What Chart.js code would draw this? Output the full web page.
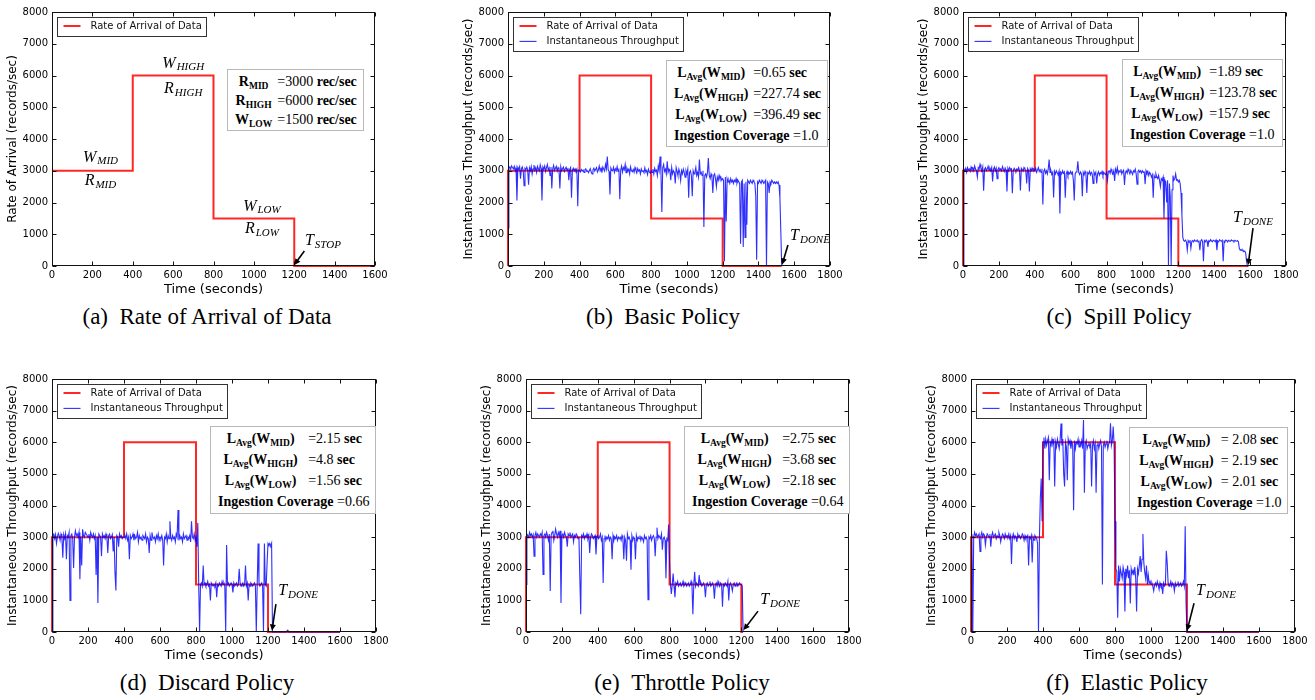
<!DOCTYPE html>
<html>
<head>
<meta charset="utf-8">
<script src="https://cdn.jsdelivr.net/npm/chart.js@4.4.0/dist/chart.umd.min.js"></script>
<style>
  body { margin: 0; width: 1315px; height: 700px; position: relative; background: #fff; overflow: hidden; }
  canvas { position: absolute; }
  .cap { position: absolute; font-family: "Liberation Serif", serif; font-size: 23px; white-space: nowrap; transform: translate(-50%, -50%); color: #000; }
  .stats { position: absolute; box-sizing: border-box; border: 1px solid #b8b8b8; background: #fff;
           display: flex; align-items: center; padding-left: 7px;
           font-family: "Liberation Serif", serif; font-size: 14px; color: #000; }
  .stats table { border-collapse: collapse; }
  .stats td { padding: 0; white-space: nowrap; }
  .stats td.k { text-align: center; padding-right: 5px; }
  .stats sub { font-size: 68%; vertical-align: -0.3em; line-height: 0; }
</style>
</head>
<body>
<script>
// ---- data ----
const STEP = 5; // seconds between throughput samples
const arrivalTimes = [0, 400, 800, 1200];
const arrivalRates = [3000, 6000, 1500, 0];

const basicThroughput = [
  1200, 3080, 3120, 3050, 3150, 3100, 3060, 3140, 3000, 3090, 2060, 3110, 3050, 3130, 2750, 3070, 3120, 3000, 2530, 3080,
  3040, 3110, 3020, 2560, 3090, 3000, 3130, 2900, 3060, 3180, 3020, 3100, 2950, 3140, 3060, 3000, 3190, 3080, 2060, 3120,
  3050, 3150, 2980, 3100, 3200, 3030, 3090, 2850, 3120, 2440, 3060, 3170, 3010, 3080, 3140, 2990, 3100, 3050, 2440, 3130,
  3000, 3070, 3120, 2980, 3060, 3110, 3010, 3090, 2700, 3040, 3100, 2150, 3020, 3080, 3000, 3060, 2990, 3050, 1880, 3020,
  3010, 2960, 3040, 2990, 3020, 2950, 3030, 3060, 2980, 3000, 2940, 3010, 3070, 2960, 2900, 3030, 3080, 2990, 3050, 3100,
  2960, 3020, 3150, 3000, 3080, 2940, 3120, 3050, 2990, 3200, 3060, 3450, 3030, 2980, 2250, 3090, 3020, 3000, 3110, 2950,
  3060, 3000, 3130, 2980, 3070, 2100, 3020, 3150, 2960, 3100, 3030, 3200, 2940, 3080, 2990, 3050, 2900, 3120, 3000, 2970,
  3040, 2950, 3100, 3010, 2930, 3070, 2990, 3030, 2900, 3060, 2980, 3000, 2940, 3090, 2960, 3010, 2880, 3050, 2970, 2920,
  3000, 2950, 3050, 2900, 3080, 2980, 3020, 2850, 3150, 3000, 3450, 2950, 1700, 3100, 3200, 2980, 3050, 2900, 3300, 2950,
  3050, 2980, 2700, 3100, 2900, 3000, 2950, 2600, 3100, 2980, 2850, 3050, 2950, 2700, 3000, 2900, 3050, 2950, 2800, 3000,
  2900, 3050, 2150, 2950, 3000, 2850, 2200, 3000, 2900, 2950, 3100, 2850, 2950, 2800, 3350, 2900, 2950, 2850, 3000, 1230,
  2850, 2900, 2800, 2950, 3400, 2850, 2750, 2900, 2800, 2300, 2850, 2900, 2750, 2500, 2800, 2700, 2850, 2750, 2800, 2700,
  2750, 2700, 150, 2800, 1400, 2750, 2650, 2700, 2600, 2750, 2650, 2700, 2600, 2700, 2650, 2750, 2600, 2700, 2650, 2600,
  700, 2650, 2700, 600, 2600, 900, 2650, 1300, 2700, 2650, 2600, 2700, 2650, 2600, 2700, 2650, 2600, 2200, 200, 2650,
  2600, 2700, 2650, 2600, 2700, 2650, 2600, 2650, 2700, 0, 2650, 2600, 2300, 2650, 2600, 2700, 2650, 2600, 2650, 2600,
  2650, 2600, 2650, 2550, 2150, 1100, 0
];

const spillThroughput = [
  0, 3050, 3000, 3080, 2950, 3100, 3020, 3060, 2980, 3120, 3040, 3090, 3000, 3150, 3050, 3000, 2800, 3100, 3060, 3200,
  3080, 3000, 3120, 2370, 3050, 3100, 3000, 3060, 3140, 3020, 3080, 3000, 3100, 2660, 3050, 3120, 3000, 3080, 2750, 3040,
  3100, 3020, 3060, 3000, 3130, 3050, 2980, 3090, 3020, 2350, 3080, 3000, 3100, 3040, 3060, 2290, 3000, 3080, 3030, 2980,
  3060, 3020, 3100, 3000, 2380, 3080, 3040, 2990, 3100, 3050, 3000, 2600, 3070, 3010, 2350, 3060, 3000, 3090, 3020, 3050,
  3000, 3080, 2950, 3020, 3100, 2980, 3030, 2950, 3060, 1940, 2990, 3050, 2920, 3000, 2900, 3060, 3350, 2950, 3000, 2880,
  2950, 2160, 2980, 2900, 3000, 2940, 2870, 2980, 1650, 2950, 2900, 3000, 2920, 2960, 2150, 2900, 2980, 2850, 2950, 2900,
  2980, 2900, 2950, 2700, 2060, 2900, 2960, 3000, 3300, 2950, 2880, 2960, 2900, 2200, 2950, 2870, 2980, 2900, 2300, 2940,
  2900, 2980, 2870, 2950, 2900, 2600, 2960, 2880, 2950, 2600, 2900, 2970, 2860, 2940, 2900, 2980, 2850, 2950, 2900, 2880,
  2950, 2700, 2980, 3000, 2920, 3050, 2960, 2900, 3000, 2680, 3050, 2950, 3100, 2900, 3000, 2960, 3050, 2900, 2980, 3020,
  2550, 2950, 3000, 2920, 3050, 2980, 2900, 3010, 2950, 2880, 3000, 2960, 3050, 2900, 2580, 2980, 3020, 2950, 3000, 2930,
  3000, 2950, 2960, 2580, 3000, 2920, 2980, 2850, 2950, 2900, 2800, 2870, 2150, 2850, 2780, 2900, 2800, 2750, 2850, 2700,
  2500, 2750, 2700, 2800, 1500, 2700, 2650, 2000, 2700, 0, 2600, 2200, 0, 2400, 2850, 2700, 2750, 2900, 2700, 2720,
  2650, 2700, 2600, 2300, 1600, 900, 800, 780, 820, 760, 500, 800, 750, 820, 560, 780, 800, 760, 820, 790,
  780, 820, 760, 800, 500, 790, 830, 770, 150, 800, 760, 820, 780, 600, 800, 770, 830, 790, 760, 810,
  800, 770, 820, 500, 790, 760, 830, 800, 780, 810, 150, 790, 770, 820, 800, 760, 810, 790, 780, 820,
  790, 800, 770, 810, 790, 780, 800, 760, 550, 500, 520, 480, 500, 450, 470, 420, 150, 0, 0
];

const discardThroughput = [
  0, 3050, 3100, 2950, 3080, 2800, 3000, 3120, 3050, 2900, 3100, 3000, 2350, 3080, 2950, 3100, 2300, 3050, 3000, 3150,
  1000, 3050, 3100, 2950, 2025, 3000, 3200, 3050, 3100, 3000, 3150, 1670, 3000, 2100, 3250, 3050, 3000, 3150, 3100, 3050,
  3000, 3100, 2900, 3150, 3050, 3000, 3100, 2950, 3050, 1800, 3000, 920, 3100, 3050, 3000, 2400, 3100, 3000, 3050, 2950,
  3100, 3000, 2500, 3050, 3100, 2950, 3000, 3080, 2550, 3000, 1870, 1310, 3050, 3000, 2700, 3100, 3000, 3050, 2950, 3000,
  3000, 3050, 2950, 3100, 2900, 3000, 2300, 3050, 2950, 3000, 3100, 2900, 3050, 2950, 3000, 3150, 2850, 3050, 2950, 3000,
  2900, 3050, 3000, 2950, 3100, 2850, 3000, 2950, 2500, 3050, 2900, 3150, 3000, 2950, 3000, 2850, 3050, 2950, 3100, 2900,
  3000, 2950, 3050, 2900, 2100, 3000, 2950, 3100, 2850, 3050, 2950, 3500, 3000, 2900, 3050, 2950, 3000, 2850, 3100, 3000,
  3860, 2900, 3050, 2950, 3000, 2850, 3100, 2950, 3000, 3050, 2900, 3000, 2950, 3050, 2850, 3500, 3000, 2950, 3100, 2900,
  3000, 2700, 3450, 1500, 0, 1500, 1550, 1450, 2100, 1500, 1550, 1450, 1500, 1600, 1450, 1500, 1000, 1550, 1500, 1450,
  1500, 1450, 1550, 1100, 1500, 1450, 1550, 1500, 1450, 1600, 1500, 1550, 1450, 0, 2750, 1500, 1550, 1450, 1500, 1550,
  1500, 1250, 1550, 1450, 1500, 1550, 1450, 1500, 2000, 1550, 1450, 1500, 1550, 1450, 1500, 2100, 1450, 1550, 1000, 1500,
  1450, 1550, 1500, 1450, 1500, 1550, 1450, 0, 1500, 2800, 1550, 1450, 1500, 1550, 1450, 0, 2800, 1500, 1450, 2200,
  2800, 2750, 2800, 2700, 2800, 0, 0, 0, 0, 0, 0, 0, 0, 0, 0, 0, 0, 0, 0, 0,
  0, 0, 60, 0, 0, 0, 0, 0, 0, 0, 0, 0, 0, 0, 0, 0, 0, 0, 0, 0,
  0, 0, 0, 0, 0, 0, 0, 0, 0, 0, 0, 0, 0, 0, 0, 0, 0, 0, 0, 0,
  0, 0, 0, 0, 0, 0, 0, 0, 0, 0, 0, 0, 0, 0, 0, 0, 0, 0, 0, 0,
  0
];

const throttleThroughput = [
  1500, 3100, 3050, 3000, 3150, 3050, 3100, 3000, 3080, 2400, 3050, 3150, 3000, 3100, 3050, 3000, 3100, 3050, 3150, 1820,
  3050, 3100, 3000, 3150, 3050, 2900, 3100, 1300, 3050, 3150, 3200, 2900, 3050, 3250, 3100, 3000, 3150, 3050, 3200, 920,
  3050, 3100, 3000, 3150, 3050, 3000, 2700, 3100, 3050, 3150, 3000, 3050, 3100, 2850, 3050, 3000, 3100, 3050, 2950, 3000,
  1700, 560, 3050, 3000, 3100, 2950, 3050, 3000, 3100, 2950, 3050, 2500, 3000, 3100, 3050, 2950, 3000, 3050, 2450, 3000,
  3050, 2950, 3000, 3100, 2900, 3000, 1550, 2950, 3050, 2900, 3000, 2950, 3050, 2900, 3000, 2950, 2300, 3050, 2900, 3000,
  2950, 3050, 2900, 3000, 2950, 3000, 2900, 3050, 2950, 2300, 3000, 2900, 2250, 3100, 2950, 3000, 2900, 1970, 3050, 2900,
  3000, 2950, 2300, 3050, 2900, 3000, 2950, 3050, 2900, 3000, 2950, 2850, 3050, 2950, 3000, 2900, 1020, 3000, 2950, 3050,
  2900, 3000, 3050, 2950, 2400, 3000, 3300, 2950, 3050, 3000, 2950, 3100, 2600, 2950, 3000, 2900, 1700, 2950, 2900, 3400,
  2200, 1500, 1200, 1500, 1850, 1450, 1100, 1550, 1500, 1600, 1450, 1500, 1550, 1450, 1500, 1600, 1450, 1500, 1550, 1450,
  1500, 1550, 1450, 1500, 1600, 1450, 560, 1500, 1900, 1450, 1550, 1500, 1450, 1800, 1500, 1550, 1450, 1500, 1550, 1450,
  1100, 1500, 1550, 1450, 1500, 1600, 1450, 1500, 1550, 1450, 1050, 1500, 1550, 1450, 1600, 1500, 1450, 1550, 1500, 800,
  1500, 1450, 1550, 1500, 1450, 1600, 1000, 1500, 1550, 1450, 1300, 1500, 1550, 1450, 1500, 1550, 1450, 1500, 1550, 1500,
  1500, 1450, 0
];

const elasticThroughput = [
  0, 3100, 0, 3000, 3150, 3050, 3100, 3000, 3050, 3100, 2550, 3050, 3150, 3000, 3100, 3050, 2750, 3000, 3100, 3050,
  3000, 3100, 2700, 3050, 3150, 3000, 3050, 3100, 2950, 3050, 3000, 3150, 3050, 2850, 3000, 3100, 3050, 2950, 3100, 3000,
  3050, 3000, 3100, 2950, 3050, 2150, 3000, 3100, 2950, 3050, 3000, 2850, 3100, 3000, 3050, 2950, 3000, 3100, 3050, 2900,
  3050, 2950, 3000, 3050, 2100, 3000, 2950, 3050, 2200, 3000, 2900, 3050, 3000, 2950, 2800, 0, 2950, 4200, 4850, 3500,
  6000, 6150, 5800, 6100, 5900, 6050, 6150, 4800, 6000, 5900, 6100, 5950, 6050, 4600, 6000, 5850, 6100, 5950, 5800, 6050,
  6590, 5900, 6100, 5000, 4600, 6000, 5850, 4800, 6100, 5950, 6050, 5800, 6000, 5900, 3850, 6050, 5800, 6000, 5950, 6100,
  5850, 6000, 5900, 6050, 5800, 6700, 4400, 5950, 6050, 5800, 5900, 6000, 5850, 5950, 4600, 5900, 6050, 5800, 5950, 4400,
  5900, 6000, 5800, 5950, 6050, 5850, 1500, 5900, 6000, 5850, 5950, 6050, 5800, 5950, 6000, 6600, 5900, 6050, 6500, 5950,
  3500, 2000, 1900, 450, 2100, 1600, 2000, 1850, 1700, 2050, 1900, 650, 2000, 1800, 2100, 1700, 1950, 900, 2000, 1850,
  1950, 1800, 2050, 1700, 650, 2000, 1850, 2100, 2400, 1900, 2300, 3100, 2200, 1900, 1700, 2100, 1500, 1800, 1550, 1600,
  1500, 1550, 1450, 1300, 1500, 1550, 1450, 1600, 1500, 1350, 1550, 1450, 1500, 1200, 1550, 1450, 1500, 2570, 2200, 1550,
  1450, 1500, 1600, 1450, 1550, 1500, 1300, 1550, 1450, 1500, 1600, 1450, 1500, 1550, 1450, 1500, 1600, 1450, 3340, 850,
  0, 0, 0, 0, 0, 0, 0, 0, 0, 0, 0, 0, 0, 0, 0, 0, 0, 0, 0, 0,
  0, 0, 0, 0, 0, 0, 0, 0, 0, 0, 0, 0, 0, 0, 0, 0, 0, 0, 0, 0,
  0, 0, 0, 0, 0, 0, 0, 0, 0, 0, 0, 0, 0, 0, 0, 0, 0, 0, 0, 0,
  0, 0, 0, 0, 0, 0, 0, 0, 0, 0, 0, 0, 0, 0, 0, 0, 0, 0, 0, 0,
  0
];

// latency table values: W_MID, W_HIGH, W_LOW, coverage
const basicLatency = ["0.65", "227.74", "396.49"];
const spillLatency = ["1.89", "123.78", "157.9"];
const discardLatency = ["2.15", "4.8", "1.56"];
const throttleLatency = ["2.75", "3.68", "2.18"];
const elasticLatency = ["2.08", "2.19", "2.01"];
const coverage = { basic: "1.0", spill: "1.0", discard: "0.66", throttle: "0.64", elastic: "1.0" };
const arrivalTable = ["3000", "6000", "1500"];

// ---- drawing helpers ----
const RED = "rgba(255,0,0,0.85)";
const BLUE = "rgba(0,0,255,0.82)";
const TICK_FONT = { family: "DejaVu Sans", size: 10 };

function arrivalPoints(end, fromZero) {
  const pts = arrivalTimes.map((t, i) => ({ x: t, y: arrivalRates[i] }));
  pts.push({ x: end, y: 0 });
  if (fromZero) pts.unshift({ x: 0, y: 0 });
  return pts;
}

const decor = {
  id: "decor",
  afterDatasetsDraw(chart, args, opts) {
    const { ctx, chartArea: a, scales: { x, y } } = chart;
    ctx.save();
    // frame and inward ticks, matplotlib classic look
    ctx.strokeStyle = "#111";
    ctx.lineWidth = 1;
    const L = Math.round(a.left) + 0.5, R = Math.round(a.right) - 0.5;
    const T = Math.round(a.top) + 0.5, B = Math.round(a.bottom) - 0.5;
    ctx.strokeRect(L, T, R - L, B - T);
    ctx.beginPath();
    x.ticks.forEach(t => {
      const px = Math.round(x.getPixelForValue(t.value)) + 0.5;
      ctx.moveTo(px, B); ctx.lineTo(px, B - 4);
      ctx.moveTo(px, T); ctx.lineTo(px, T + 4);
    });
    y.ticks.forEach(t => {
      const py = Math.round(y.getPixelForValue(t.value)) + 0.5;
      ctx.moveTo(L, py); ctx.lineTo(L + 4, py);
      ctx.moveTo(R, py); ctx.lineTo(R - 4, py);
    });
    ctx.stroke();

    // italic math labels like W_MID, T_DONE
    (opts.labels || []).forEach(l => {
      const px = x.getPixelForValue(l.x), py = y.getPixelForValue(l.y);
      ctx.fillStyle = "#000";
      ctx.textBaseline = "middle";
      ctx.textAlign = "left";
      ctx.font = 'italic 16px "Liberation Serif"';
      const w1 = ctx.measureText(l.t).width;
      ctx.font = 'italic 11px "Liberation Serif"';
      const w2 = ctx.measureText(l.s).width;
      const x0 = px - (w1 + w2 + 1) / 2;
      ctx.font = 'italic 16px "Liberation Serif"';
      ctx.fillText(l.t, x0, py);
      ctx.font = 'italic 11px "Liberation Serif"';
      ctx.fillText(l.s, x0 + w1 + 1, py + 4);
    });

    // arrows
    (opts.arrows || []).forEach(ar => {
      const x1 = x.getPixelForValue(ar.x1), y1 = y.getPixelForValue(ar.y1);
      const x2 = x.getPixelForValue(ar.x2), y2 = y.getPixelForValue(ar.y2);
      const ang = Math.atan2(y2 - y1, x2 - x1);
      ctx.strokeStyle = "#000";
      ctx.fillStyle = "#000";
      ctx.lineWidth = 1.6;
      ctx.beginPath();
      ctx.moveTo(x1, y1);
      ctx.lineTo(x2 - 4 * Math.cos(ang), y2 - 4 * Math.sin(ang));
      ctx.stroke();
      ctx.beginPath();
      ctx.moveTo(x2, y2);
      ctx.lineTo(x2 - 7 * Math.cos(ang - 0.45), y2 - 7 * Math.sin(ang - 0.45));
      ctx.lineTo(x2 - 7 * Math.cos(ang + 0.45), y2 - 7 * Math.sin(ang + 0.45));
      ctx.closePath();
      ctx.fill();
    });

    // legend box in the top left corner of the plot
    const items = [...chart.data.datasets].filter(d => d.label).sort((p, q) => p.legendRank - q.legendRank);
    ctx.font = '10px "DejaVu Sans"';
    const tw = Math.max(...items.map(d => ctx.measureText(d.label).width));
    const bx = Math.round(a.left) + 5.5, by = Math.round(a.top) + 5.5;
    const bw = Math.round(33 + tw + 5), bh = Math.round(items.length * 15.4 + 3.5);
    ctx.fillStyle = "#fff";
    ctx.fillRect(bx, by, bw, bh);
    ctx.strokeStyle = "#333";
    ctx.lineWidth = 1;
    ctx.strokeRect(bx, by, bw, bh);
    items.forEach((d, i) => {
      const ly = by + 8.5 + i * 15.4;
      ctx.strokeStyle = d.borderColor;
      ctx.lineWidth = d.borderWidth;
      ctx.beginPath();
      ctx.moveTo(bx + 6, ly); ctx.lineTo(bx + 23, ly);
      ctx.stroke();
      ctx.fillStyle = "#111";
      ctx.textBaseline = "middle";
      ctx.fillText(d.label, bx + 33, ly);
    });
    ctx.restore();
  }
};

function makeChart(p) {
  const AX_W = 46, AX_H = 31, PAD_T = 8, PAD_R = 16;
  const cv = document.createElement("canvas");
  cv.width = (p.rect[2] - p.rect[0]) + AX_W + PAD_R;
  cv.height = (p.rect[3] - p.rect[1]) + PAD_T + AX_H + 1;
  cv.style.left = (p.rect[0] - AX_W) + "px";
  cv.style.top = (p.rect[1] - PAD_T) + "px";
  document.body.appendChild(cv);

  const datasets = [{
    label: "Rate of Arrival of Data",
    legendRank: 0,
    data: arrivalPoints(p.arrivalEnd, !!p.throughput),
    stepped: "before",
    borderColor: RED,
    borderWidth: 2,
    clip: 3,
    order: 2
  }];
  if (p.throughput) {
    datasets.push({
      label: "Instantaneous Throughput",
      legendRank: 1,
      data: p.throughput.map((v, i) => ({ x: i * STEP, y: v })),
      borderColor: BLUE,
      borderWidth: 1.1,
      clip: 3,
      order: 1
    });
  }

  new Chart(cv, {
    type: "line",
    data: { datasets },
    options: {
      responsive: false,
      animation: false,
      elements: { point: { radius: 0 }, line: { tension: 0 } },
      layout: { padding: { top: PAD_T, right: PAD_R, left: 0, bottom: 0 } },
      plugins: {
        legend: { display: false },
        tooltip: { enabled: false },
        decor: { labels: p.labels, arrows: p.arrows }
      },
      scales: {
        x: {
          type: "linear", min: 0, max: p.xMax,
          ticks: { stepSize: 200, font: TICK_FONT, color: "#000", padding: 3, maxRotation: 0, autoSkip: false, callback: v => String(v) },
          grid: { display: false, drawTicks: false, tickLength: 0 },
          border: { display: false },
          title: { display: true, text: p.xTitle, font: { family: "DejaVu Sans", size: 13 }, color: "#000", padding: 0 },
          afterFit: s => { s.height = AX_H; }
        },
        y: {
          min: 0, max: 8000,
          ticks: { stepSize: 1000, font: TICK_FONT, color: "#000", padding: 4, callback: v => String(v) },
          grid: { display: false, drawTicks: false, tickLength: 0 },
          border: { display: false },
          title: { display: true, text: p.yTitle, font: { family: "DejaVu Sans", size: 12 }, color: "#000", padding: 0 },
          afterFit: s => { s.width = AX_W; }
        }
      }
    },
    plugins: [decor]
  });

  // caption
  const cap = document.createElement("div");
  cap.className = "cap";
  cap.style.left = p.caption[1] + "px";
  cap.style.top = p.caption[2] + "px";
  cap.innerHTML = p.caption[0];
  document.body.appendChild(cap);

  // stats box
  const st = document.createElement("div");
  st.className = "stats";
  st.style.left = p.stats.box[0] + "px";
  st.style.top = p.stats.box[1] + "px";
  st.style.width = (p.stats.box[2] - p.stats.box[0]) + "px";
  st.style.height = (p.stats.box[3] - p.stats.box[1]) + "px";
  st.style.lineHeight = p.stats.lh + "px";
  let html = "<table>";
  p.stats.rows.forEach(r => { html += `<tr><td class="k">${r[0]}</td><td>${r[1]}</td></tr>`; });
  if (p.stats.foot) html += `<tr><td colspan="2">${p.stats.foot}</td></tr>`;
  st.innerHTML = html + "</table>";
  document.body.appendChild(st);
}

function latRows(vals, sp) {
  const g = ["MID", "HIGH", "LOW"];
  return vals.map((v, i) => [`<b>L<sub>Avg</sub>(W<sub>${g[i]}</sub>)</b>`, `=${sp || ""}${v} <b>sec</b>`]);
}
const covFoot = c => `<b>Ingestion Coverage</b> =${c}`;
const TP_Y = "Instantaneous Throughput (records/sec)";

makeChart({
  rect: [52, 10, 375, 265], xMax: 1600, arrivalEnd: 1600,
  xTitle: "Time (seconds)", yTitle: "Rate of Arrival (records/sec)",
  caption: ["(a)&ensp;Rate of Arrival of Data", 207, 317],
  labels: [
    { t: "W", s: "MID", x: 240, y: 3420 }, { t: "R", s: "MID", x: 240, y: 2670 },
    { t: "W", s: "HIGH", x: 650, y: 6380 }, { t: "R", s: "HIGH", x: 650, y: 5580 },
    { t: "W", s: "LOW", x: 1040, y: 1880 }, { t: "R", s: "LOW", x: 1040, y: 1160 },
    { t: "T", s: "STOP", x: 1342, y: 780 }
  ],
  arrows: [{ x1: 1250, y1: 470, x2: 1200, y2: 30 }],
  stats: {
    box: [227, 69, 364, 131], lh: 19,
    rows: [
      ["<b>R<sub>MID</sub></b>", `=${arrivalTable[0]} <b>rec/sec</b>`],
      ["<b>R<sub>HIGH</sub></b>", `=${arrivalTable[1]} <b>rec/sec</b>`],
      ["<b>W<sub>LOW</sub></b>", `=${arrivalTable[2]} <b>rec/sec</b>`]
    ]
  }
});

makeChart({
  rect: [508, 10, 830, 265], xMax: 1800, arrivalEnd: 1530, throughput: basicThroughput,
  xTitle: "Time (seconds)", yTitle: TP_Y,
  caption: ["(b)&ensp;Basic Policy", 663, 317],
  labels: [{ t: "T", s: "DONE", x: 1688, y: 940 }],
  arrows: [{ x1: 1565, y1: 660, x2: 1532, y2: 40 }],
  stats: { box: [666, 60, 828, 147], lh: 21, rows: latRows(basicLatency), foot: covFoot(coverage.basic) }
});

makeChart({
  rect: [963, 10, 1286, 265], xMax: 1800, arrivalEnd: 1590, throughput: spillThroughput,
  xTitle: "Time (seconds)", yTitle: TP_Y,
  caption: ["(c)&ensp;Spill Policy", 1119, 317],
  labels: [{ t: "T", s: "DONE", x: 1616, y: 1506 }],
  arrows: [{ x1: 1616, y1: 1190, x2: 1589, y2: 30 }],
  stats: { box: [1122, 59, 1283, 147], lh: 21, rows: latRows(spillLatency), foot: covFoot(coverage.spill) }
});

makeChart({
  rect: [52, 377, 376, 631], xMax: 1800, arrivalEnd: 1600, throughput: discardThroughput,
  xTitle: "Time (seconds)", yTitle: TP_Y,
  caption: ["(d)&ensp;Discard Policy", 207, 683],
  labels: [{ t: "T", s: "DONE", x: 1367, y: 1290 }],
  arrows: [{ x1: 1244, y1: 880, x2: 1222, y2: 40 }],
  stats: { box: [210, 426, 376, 514], lh: 21, rows: latRows(discardLatency), foot: covFoot(coverage.discard) }
});

makeChart({
  rect: [526, 377, 849, 631], xMax: 1800, arrivalEnd: 1210, throughput: throttleThroughput,
  xTitle: "Times (seconds)", yTitle: TP_Y,
  caption: ["(e)&ensp;Throttle Policy", 682, 683],
  labels: [{ t: "T", s: "DONE", x: 1416, y: 1010 }],
  arrows: [{ x1: 1293, y1: 660, x2: 1212, y2: 60 }],
  stats: { box: [684, 426, 850, 514], lh: 21, rows: latRows(throttleLatency), foot: covFoot(coverage.throttle) }
});

makeChart({
  rect: [971, 377, 1295, 631], xMax: 1800, arrivalEnd: 1600, throughput: elasticThroughput,
  xTitle: "Time (seconds)", yTitle: TP_Y,
  caption: ["(f)&ensp;Elastic Policy", 1127, 683],
  labels: [{ t: "T", s: "DONE", x: 1361, y: 1290 }],
  arrows: [{ x1: 1239, y1: 910, x2: 1200, y2: 40 }],
  stats: { box: [1129, 427, 1288, 514], lh: 21, rows: latRows(elasticLatency, " "), foot: covFoot(coverage.elastic) }
});
</script>
</body>
</html>
